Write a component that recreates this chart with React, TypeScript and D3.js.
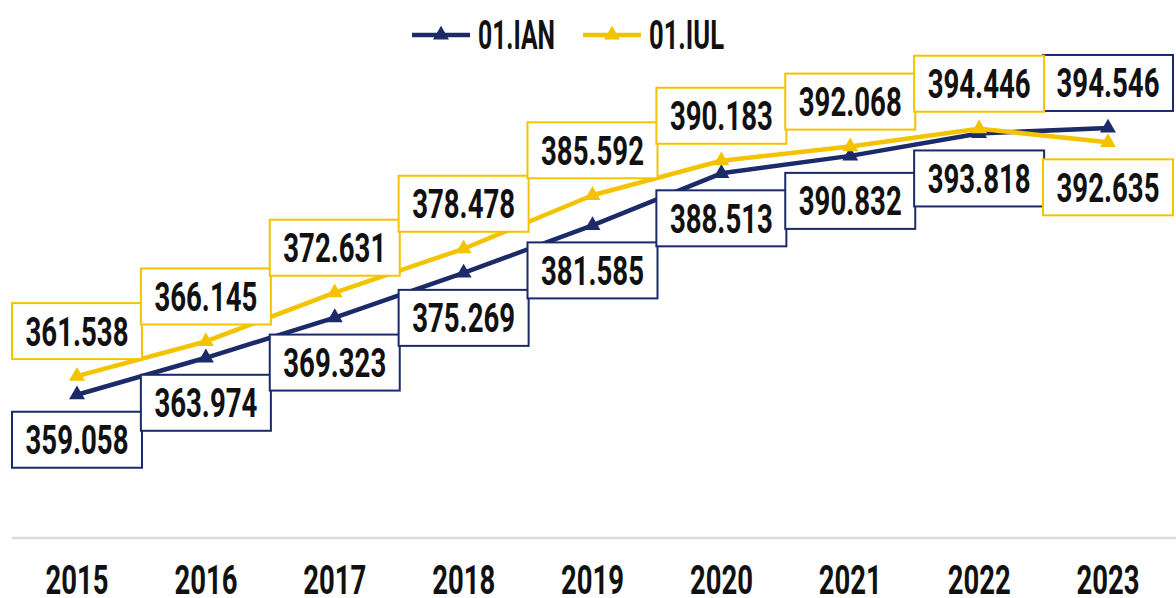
import React, { useEffect, useRef } from 'react';
import * as d3 from 'd3';

const years = ['2015', '2016', '2017', '2018', '2019', '2020', '2021', '2022', '2023'];
const ianValues = [359.058, 363.974, 369.323, 375.269, 381.585, 388.513, 390.832, 393.818, 394.546];
const iulValues = [361.538, 366.145, 372.631, 378.478, 385.592, 390.183, 392.068, 394.446, 392.635];
const seriesNames = ['01.IAN', '01.IUL'];
// label goes above (-1) or below (1) the point
const ianLabelSide = [1, 1, 1, 1, 1, 1, 1, 1, -1];
const iulLabelSide = [-1, -1, -1, -1, -1, -1, -1, -1, 1];

const NAVY = '#1b2a68';
const GOLD = '#f4c300';
const FONT = 'Roboto, "Liberation Sans", sans-serif';

const App = () => {
  const svgRef = useRef<SVGSVGElement>(null);

  useEffect(() => {
    const width = 1176;
    const height = 598;

    const svg = d3.select(svgRef.current)
      .attr('width', width)
      .attr('height', height);

    svg.selectAll('*').remove();

    const x = d3.scalePoint()
      .domain(years)
      .range([77, 1108]);

    const y = d3.scaleLinear()
      .domain([340, 410])
      .range([538, 11.8]);

    // baseline
    svg.append('line')
      .attr('x1', 12)
      .attr('x2', width)
      .attr('y1', 538)
      .attr('y2', 538)
      .attr('stroke', '#dcdcdc')
      .attr('stroke-width', 2.5);

    // year labels
    svg.selectAll('text.year')
      .data(years)
      .join('text')
      .attr('class', 'year')
      .attr('x', d => x(d))
      .attr('y', 594)
      .attr('text-anchor', 'middle')
      .attr('font-family', FONT)
      .attr('font-weight', 700)
      .attr('font-size', 40)
      .attr('fill', '#111')
      .attr('textLength', 63)
      .attr('lengthAdjust', 'spacingAndGlyphs')
      .text(d => d);

    const series = [
      { name: seriesNames[0], values: ianValues, color: NAVY, side: ianLabelSide },
      { name: seriesNames[1], values: iulValues, color: GOLD, side: iulLabelSide },
    ];

    const line = d3.line<number>()
      .x((d, i) => x(years[i]))
      .y(d => y(d));

    const triangle = d3.symbol().type(d3.symbolTriangle).size(110);

    series.forEach(s => {
      svg.append('path')
        .attr('d', line(s.values))
        .attr('fill', 'none')
        .attr('stroke', s.color)
        .attr('stroke-width', 4.5)
        .attr('stroke-linejoin', 'round');

      svg.selectAll(null)
        .data(s.values)
        .join('path')
        .attr('d', triangle)
        .attr('transform', (d, i) => `translate(${x(years[i])},${y(d)})`)
        .attr('fill', s.color);
    });

    // value label boxes, kept inside the right edge
    const boxW = 130;
    const boxH = 56;
    series.forEach(s => {
      const g = svg.selectAll(null)
        .data(s.values)
        .join('g')
        .attr('transform', (d, i) => {
          const cx = Math.min(x(years[i]), width - 1 - boxW / 2);
          return `translate(${cx},${y(d) + s.side[i] * 45})`;
        });

      g.append('rect')
        .attr('x', -boxW / 2)
        .attr('y', -boxH / 2)
        .attr('width', boxW)
        .attr('height', boxH)
        .attr('fill', '#fff')
        .attr('stroke', s.color)
        .attr('stroke-width', 2);

      g.append('text')
        .attr('y', 14.5)
        .attr('text-anchor', 'middle')
        .attr('font-family', FONT)
        .attr('font-weight', 700)
        .attr('font-size', 40)
        .attr('fill', '#111')
        .attr('textLength', 103)
        .attr('lengthAdjust', 'spacingAndGlyphs')
        .text(d => d.toFixed(3));
    });

    // legend
    const legendItems = [
      { name: seriesNames[0], color: NAVY, x0: 412, tw: 77 },
      { name: seriesNames[1], color: GOLD, x0: 583, tw: 75 },
    ];
    legendItems.forEach(item => {
      const lg = svg.append('g').attr('transform', `translate(${item.x0},35)`);
      lg.append('line')
        .attr('x1', 0)
        .attr('x2', 58)
        .attr('stroke', item.color)
        .attr('stroke-width', 4.5);
      lg.append('path')
        .attr('d', triangle)
        .attr('transform', 'translate(29,0)')
        .attr('fill', item.color);
      lg.append('text')
        .attr('x', 66)
        .attr('y', 14)
        .attr('font-family', FONT)
        .attr('font-weight', 700)
        .attr('font-size', 40)
        .attr('fill', '#111')
        .attr('textLength', item.tw)
        .attr('lengthAdjust', 'spacingAndGlyphs')
        .text(item.name);
    });
  }, []);

  return (
    <svg
      ref={svgRef}
      style={{ position: 'absolute', left: 0, top: 0, display: 'block', background: '#fff' }}
    ></svg>
  );
};

export default App;
